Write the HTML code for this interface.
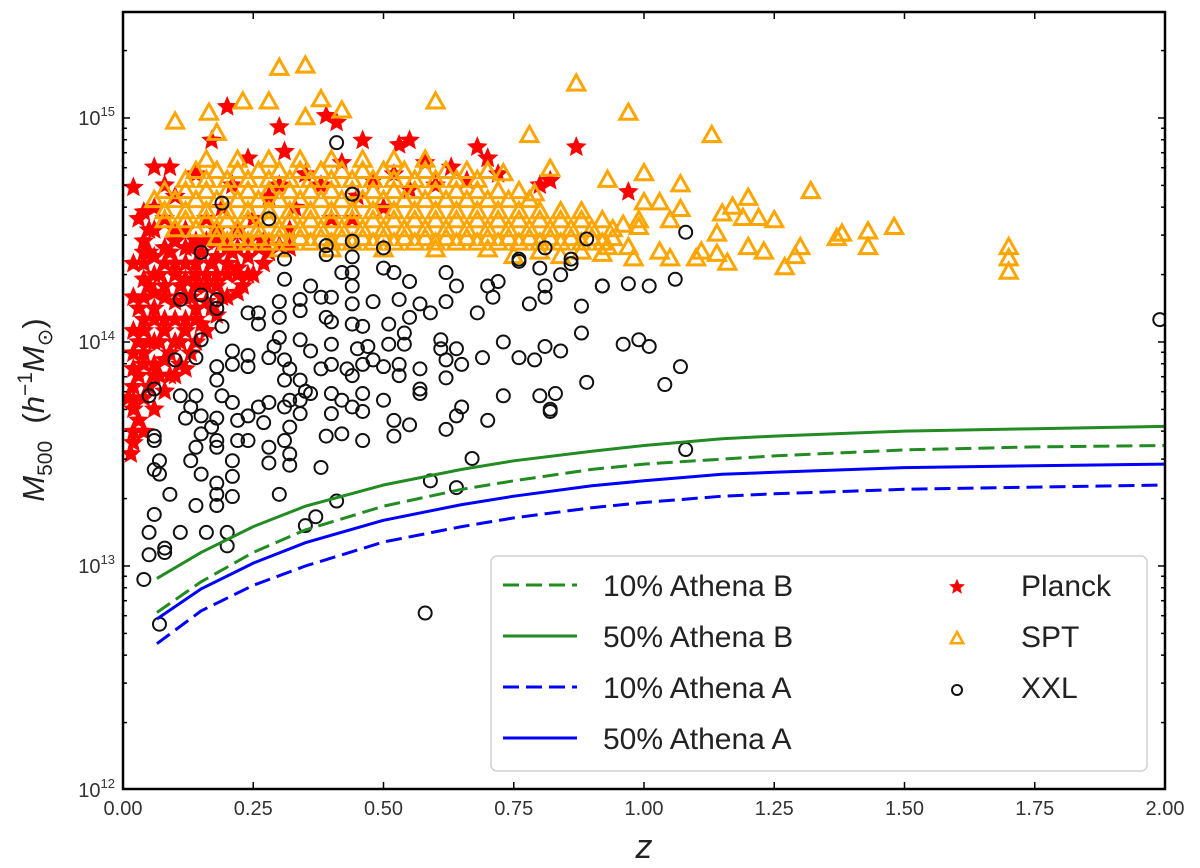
<!DOCTYPE html>
<html><head><meta charset="utf-8"><style>
html,body{margin:0;padding:0;background:#fff;}
svg{display:block;font-family:"Liberation Sans","DejaVu Sans",sans-serif;}
</style></head><body>
<svg id="chart" width="1200" height="868" viewBox="0 0 1200 868">
  <g id="marks"></g>
  <g id="axes"></g>
  <text x="644" y="858" text-anchor="middle" font-size="34" font-style="italic" fill="#222">z</text>
  <text transform="translate(44,410) rotate(-90)" text-anchor="middle" font-size="31" fill="#222"><tspan font-style="italic">M</tspan><tspan font-size="21" dy="8">500</tspan><tspan dy="-8" xml:space="preserve">  (</tspan><tspan font-style="italic">h</tspan><tspan font-size="21" dy="-12">−1</tspan><tspan dy="12" font-style="italic">M</tspan><tspan font-size="21" dy="8">⊙</tspan><tspan dy="-8">)</tspan></text>
  <g id="legend"></g>
</svg>
<script>
// ---- data ----
const xTicks = [0, 0.25, 0.5, 0.75, 1.0, 1.25, 1.5, 1.75, 2.0];
const xTickLabels = ["0.00","0.25","0.50","0.75","1.00","1.25","1.50","1.75","2.00"];
const yDecades = [12, 13, 14, 15];
const curveZ = [0.065, 0.15, 0.25, 0.35, 0.5, 0.65, 0.75, 0.9, 1.0, 1.15, 1.25, 1.5, 1.75, 2.0];
const athenaB50 = [8.8e12, 1.15e13, 1.5e13, 1.85e13, 2.3e13, 2.7e13, 2.95e13, 3.25e13, 3.45e13, 3.7e13, 3.8e13, 4.0e13, 4.1e13, 4.2e13];
const athenaB10 = [6.2e12, 8.5e12, 1.15e13, 1.45e13, 1.85e13, 2.2e13, 2.4e13, 2.7e13, 2.85e13, 3.0e13, 3.1e13, 3.3e13, 3.4e13, 3.45e13];
const athenaA50 = [5.8e12, 7.9e12, 1.03e13, 1.27e13, 1.6e13, 1.88e13, 2.05e13, 2.28e13, 2.4e13, 2.57e13, 2.62e13, 2.75e13, 2.8e13, 2.85e13];
const athenaA10 = [4.5e12, 6.3e12, 8.2e12, 1.0e13, 1.28e13, 1.5e13, 1.64e13, 1.82e13, 1.92e13, 2.05e13, 2.1e13, 2.2e13, 2.25e13, 2.3e13];
const planck = [[0.02,13.74],[0.03,13.85],[0.02,13.95],[0.04,14.05],[0.03,14.15],[0.05,14.25],[0.04,14.35],[0.06,13.9],[0.07,14.0],[0.06,14.1],[0.08,14.2],[0.07,14.3],[0.09,14.4],[0.05,13.8],[0.1,14.1],[0.11,14.25],[0.12,14.35],[0.1,14.45],[0.13,14.2],[0.14,14.3],[0.15,14.4],[0.16,14.25],[0.17,14.35],[0.18,14.45],[0.2,14.3],[0.21,14.4],[0.22,14.33],[0.24,14.38],[0.26,14.42],[0.28,14.4],[0.3,14.43],[0.08,14.05],[0.09,13.95],[0.11,14.0],[0.12,14.1],[0.14,14.15],[0.05,14.5],[0.03,14.55],[0.02,14.69],[0.06,14.6],[0.1,14.65],[0.04,14.45],[0.01,13.75],[0.02,13.6],[0.03,13.65],[0.015,13.5],[0.07,13.85],[0.12,14.5],[0.16,14.55],[0.19,14.6],[0.22,14.5],[0.25,14.55],[0.28,14.65],[0.3,14.7],[0.33,14.6],[0.35,14.75],[0.38,14.7],[0.4,14.55],[0.42,14.8],[0.45,14.65],[0.48,14.72],[0.5,14.6],[0.52,14.75],[0.55,14.68],[0.58,14.8],[0.6,14.7],[0.63,14.78],[0.66,14.72],[0.7,14.82],[0.72,14.75],[0.2,15.05],[0.17,14.9],[0.3,14.96],[0.31,14.85],[0.39,15.01],[0.55,14.9],[0.41,14.98],[0.46,14.9],[0.53,14.88],[0.68,14.87],[0.7,14.82],[0.87,14.87],[0.97,14.67],[0.06,14.78],[0.09,14.78],[0.8,14.7],[0.82,14.72],[0.21,14.7],[0.24,14.82],[0.14,14.75],[0.08,14.7],[0.44,14.55],[0.32,14.5],[0.19,14.2],[0.17,14.15],[0.13,13.95],[0.09,13.85],[0.04,13.9],[0.05,14.0],[0.06,14.3],[0.08,14.35],[0.1,14.3],[0.15,14.08],[0.2,14.45],[0.23,14.25],[0.11,13.9],[0.02,13.8],[0.03,14.0],[0.04,14.2],[0.05,14.4],[0.13,14.42],[0.18,14.3],[0.25,14.3],
[0.02,13.55],[0.02,13.7],[0.02,13.88],[0.02,14.05],[0.02,14.2],[0.02,14.35],
[0.04,13.6],[0.04,13.75],[0.04,13.95],[0.04,14.1],[0.04,14.28],[0.04,14.4],[0.04,14.58],
[0.06,13.7],[0.06,13.85],[0.06,14.0],[0.06,14.15],[0.06,14.22],[0.06,14.38],[0.06,14.5],
[0.08,13.78],[0.08,13.92],[0.08,14.1],[0.08,14.25],[0.08,14.42],[0.08,14.55],
[0.10,13.85],[0.10,14.0],[0.10,14.18],[0.10,14.35],[0.10,14.5],
[0.12,13.88],[0.12,14.05],[0.12,14.2],[0.12,14.28],[0.12,14.42],
[0.14,14.0],[0.14,14.1],[0.14,14.25],[0.14,14.35],[0.14,14.45],
[0.16,14.05],[0.16,14.18],[0.16,14.3],[0.16,14.45],
[0.18,14.12],[0.18,14.25],[0.18,14.38],[0.18,14.5],
[0.20,14.2],[0.20,14.35],[0.20,14.42],[0.22,14.22],[0.22,14.3],[0.22,14.42],
[0.24,14.3],[0.24,14.45],[0.27,14.35],[0.27,14.45],[0.32,14.42]];
const spt = [[0.30,15.22],[0.35,15.23],[0.10,14.98],[0.165,15.02],[0.23,15.07],[0.28,15.07],[0.38,15.08],[0.42,15.03],[0.35,15.0],[0.60,15.07],[0.87,15.15],[0.97,15.02],[0.78,14.92],[1.13,14.92],[0.18,14.93],[1.0,14.75],[0.93,14.72],[1.07,14.70],[1.32,14.67],[1.2,14.64],[1.0,14.62],[1.03,14.62],[1.07,14.59],[1.17,14.60],[1.15,14.57],[1.19,14.55],[1.22,14.55],[1.25,14.54],[1.48,14.51],[1.43,14.49],[1.38,14.48],[1.37,14.46],[1.43,14.42],[1.30,14.42],[1.29,14.38],[1.27,14.33],[1.23,14.40],[1.20,14.42],[1.16,14.35],[1.14,14.39],[1.10,14.37],[1.11,14.40],[1.14,14.48],[1.05,14.54],[1.05,14.37],[1.03,14.40],[0.98,14.37],[1.70,14.42],[1.70,14.37],[1.70,14.31],[0.99,14.51],[0.96,14.52],[0.93,14.42],[0.97,14.42],[0.99,14.54],[0.82,14.77],[0.73,14.75],[0.79,14.66],
[0.18,14.46],[0.22,14.46],[0.26,14.46],[0.30,14.46],[0.34,14.46],[0.38,14.46],[0.42,14.46],[0.46,14.46],[0.50,14.46],[0.54,14.46],[0.58,14.46],[0.62,14.46],[0.66,14.46],[0.70,14.46],[0.74,14.46],[0.78,14.46],[0.82,14.46],[0.86,14.46],[0.90,14.46],[0.94,14.46],
[0.08,14.54],[0.12,14.54],[0.16,14.54],[0.20,14.54],[0.24,14.54],[0.28,14.54],[0.32,14.54],[0.36,14.54],[0.40,14.54],[0.44,14.54],[0.48,14.54],[0.52,14.54],[0.56,14.54],[0.60,14.54],[0.64,14.54],[0.68,14.54],[0.72,14.54],[0.76,14.54],[0.80,14.54],[0.84,14.54],[0.88,14.54],[0.92,14.54],
[0.06,14.63],[0.10,14.63],[0.14,14.63],[0.18,14.63],[0.22,14.63],[0.26,14.63],[0.30,14.63],[0.34,14.63],[0.38,14.63],[0.42,14.63],[0.46,14.63],[0.50,14.63],[0.54,14.63],[0.58,14.63],[0.62,14.63],[0.66,14.63],[0.70,14.63],[0.74,14.63],[0.78,14.63],
[0.12,14.72],[0.16,14.72],[0.20,14.72],[0.24,14.72],[0.28,14.72],[0.32,14.72],[0.36,14.72],[0.40,14.72],[0.44,14.72],[0.48,14.72],[0.52,14.72],[0.56,14.72],[0.60,14.72],[0.64,14.72],[0.68,14.72],
[0.16,14.81],[0.22,14.81],[0.28,14.81],[0.34,14.81],[0.40,14.81],[0.46,14.81],[0.52,14.81],[0.58,14.81],
[0.30,14.41],[0.40,14.41],[0.50,14.41],[0.60,14.41],[0.70,14.41],[0.80,14.40],[0.88,14.40],[0.75,14.38],[0.84,14.38],[0.92,14.39],
[0.20,14.44],[0.24,14.44],[0.28,14.44],[0.32,14.44],[0.36,14.44],[0.40,14.44],[0.44,14.44],[0.48,14.44],[0.52,14.44],[0.56,14.44],[0.60,14.44],[0.64,14.44],[0.68,14.44],[0.72,14.44],[0.76,14.44],[0.80,14.44],[0.84,14.44],[0.88,14.44],[0.92,14.44],
[0.10,14.50],[0.14,14.50],[0.18,14.50],[0.22,14.50],[0.26,14.50],[0.30,14.50],[0.34,14.50],[0.38,14.50],[0.42,14.50],[0.46,14.50],[0.50,14.50],[0.54,14.50],[0.58,14.50],[0.62,14.50],[0.66,14.50],[0.70,14.50],[0.74,14.50],[0.78,14.50],[0.82,14.50],[0.86,14.50],[0.90,14.50],[0.94,14.50],
[0.08,14.58],[0.12,14.58],[0.16,14.58],[0.20,14.58],[0.24,14.58],[0.28,14.58],[0.32,14.58],[0.36,14.58],[0.40,14.58],[0.44,14.58],[0.48,14.58],[0.52,14.58],[0.56,14.58],[0.60,14.58],[0.64,14.58],[0.68,14.58],[0.72,14.58],[0.76,14.58],[0.80,14.58],[0.84,14.58],[0.88,14.58],
[0.08,14.67],[0.12,14.67],[0.16,14.67],[0.20,14.67],[0.24,14.67],[0.28,14.67],[0.32,14.67],[0.36,14.67],[0.40,14.67],[0.44,14.67],[0.48,14.67],[0.52,14.67],[0.56,14.67],[0.60,14.67],[0.64,14.67],[0.68,14.67],[0.72,14.67],[0.76,14.67],
[0.14,14.76],[0.18,14.76],[0.22,14.76],[0.26,14.76],[0.30,14.76],[0.34,14.76],[0.38,14.76],[0.42,14.76],[0.46,14.76],[0.50,14.76],[0.54,14.76],[0.58,14.76],[0.62,14.76],[0.66,14.76],[0.70,14.76]];
const xxl = [[0.11,14.19],[0.15,14.21],[0.18,14.19],[0.18,14.15],[0.19,14.07],[0.31,14.28],[0.42,14.31],[0.44,14.31],[0.44,14.25],[0.50,14.33],[0.52,14.31],[0.55,14.27],[0.62,14.31],[0.64,14.25],[0.70,14.25],[0.72,14.27],[0.71,14.20],[0.76,14.36],[0.80,14.33],[0.81,14.25],[0.81,14.20],[0.84,14.30],[0.86,14.35],[0.78,14.17],[0.88,14.16],[0.92,14.25],[0.97,14.26],[1.01,14.25],[1.06,14.28],[0.68,14.13],[0.59,14.13],[0.57,14.17],[0.62,14.18],[0.55,14.11],[0.53,14.19],[0.48,14.18],[0.44,14.17],[0.40,14.20],[0.38,14.20],[0.36,14.25],[0.34,14.19],[0.30,14.18],[0.26,14.13],[0.24,14.13],[0.26,14.08],[0.30,14.11],[0.34,14.14],[0.39,14.11],[0.40,14.09],[0.44,14.08],[0.46,14.07],[0.51,14.08],[0.54,14.04],[0.54,13.99],[0.51,13.99],[0.47,13.98],[0.45,13.97],[0.40,13.99],[0.36,13.96],[0.34,14.01],[0.30,14.02],[0.29,13.98],[0.24,13.94],[0.21,13.96],[0.15,14.01],[0.10,13.92],[0.14,13.93],[0.18,13.89],[0.18,13.83],[0.21,13.90],[0.24,13.89],[0.28,13.93],[0.31,13.92],[0.32,13.88],[0.31,13.83],[0.34,13.83],[0.35,13.78],[0.38,13.88],[0.40,13.90],[0.43,13.88],[0.44,13.85],[0.46,13.90],[0.48,13.92],[0.50,13.89],[0.53,13.90],[0.53,13.85],[0.57,13.79],[0.57,13.77],[0.57,13.88],[0.61,14.01],[0.61,13.97],[0.64,13.97],[0.62,13.92],[0.65,13.90],[0.62,13.84],[0.69,13.93],[0.73,14.00],[0.76,13.93],[0.79,13.92],[0.81,13.98],[0.84,13.96],[0.88,14.04],[0.96,13.99],[0.99,14.01],[1.01,13.98],[1.07,13.89],[1.04,13.81],[0.89,13.82],[0.73,13.76],[0.80,13.76],[0.83,13.77],[0.82,13.69],[0.82,13.70],[0.70,13.65],[0.65,13.71],[0.64,13.67],[0.62,13.61],[0.55,13.63],[0.52,13.65],[0.52,13.58],[0.46,13.56],[0.42,13.59],[0.39,13.58],[0.40,13.68],[0.44,13.71],[0.46,13.69],[0.50,13.74],[0.46,13.77],[0.42,13.74],[0.40,13.77],[0.36,13.77],[0.32,13.74],[0.34,13.68],[0.32,13.62],[0.31,13.56],[0.32,13.50],[0.28,13.53],[0.28,13.46],[0.32,13.45],[0.38,13.44],[0.30,13.32],[0.24,13.56],[0.22,13.56],[0.21,13.47],[0.21,13.40],[0.21,13.31],[0.18,13.37],[0.18,13.32],[0.18,13.27],[0.14,13.27],[0.15,13.41],[0.13,13.47],[0.14,13.53],[0.18,13.56],[0.17,13.62],[0.15,13.67],[0.12,13.66],[0.11,13.76],[0.14,13.76],[0.19,13.76],[0.21,13.73],[0.24,13.67],[0.28,13.73],[0.27,13.64],[0.06,13.79],[0.05,13.76],[0.06,13.58],[0.06,13.56],[0.07,13.47],[0.06,13.43],[0.07,13.41],[0.09,13.32],[0.06,13.23],[0.05,13.15],[0.05,13.05],[0.08,13.06],[0.08,13.08],[0.11,13.15],[0.16,13.15],[0.20,13.15],[0.20,13.09],[0.04,12.94],[0.07,12.74],[0.58,12.79],[0.35,13.18],[0.37,13.22],[0.41,13.29],[0.59,13.38],[0.64,13.35],[0.67,13.48],[1.08,13.52],[0.18,13.53],[0.15,13.59],[0.13,13.71],[0.18,13.66],[0.22,13.65],[0.26,13.71],[0.31,13.71],[0.34,13.74],
[0.41,14.89],[0.44,14.66],[0.28,14.55],[0.19,14.62],[0.15,14.40],[0.31,14.37],[0.39,14.43],[0.44,14.45],[0.50,14.42],[0.39,14.39],[0.44,14.38],[0.76,14.37],[0.81,14.42],[0.89,14.46],[1.08,14.49],[0.86,14.37],[0.92,14.25],[1.99,14.10]];

// ---- scales ----
const X0 = 123, X1 = 1165, YTOP = 12, YBOT = 789;
const DEC = 224, Y15 = 118;
function sx(z){ return X0 + (z/2.0)*(X1-X0); }
function sy(logm){ return Y15 + (15 - logm)*DEC; }
const NS = "http://www.w3.org/2000/svg";
function mk(tag, attrs, parent){ const e=document.createElementNS(NS,tag); for(const k in attrs) e.setAttribute(k,attrs[k]); parent.appendChild(e); return e; }

const svg = document.getElementById('chart');
const defs = mk('defs',{},svg);
const clip = mk('clipPath',{id:'plotclip'},defs);
mk('rect',{x:X0,y:YTOP,width:X1-X0,height:YBOT-YTOP},clip);
const marks = document.getElementById('marks');
marks.setAttribute('clip-path','url(#plotclip)');

function starPath(cx,cy,r){
  let d=''; for(let i=0;i<10;i++){ const a=-Math.PI/2+i*Math.PI/5; const rr=i%2?r*0.45:r; d+=(i?'L':'M')+(cx+rr*Math.cos(a)).toFixed(1)+','+(cy+rr*Math.sin(a)).toFixed(1);} return d+'Z';
}
function triPath(cx,cy,s){ return `M${cx},${cy-s}L${cx+s*0.9},${cy+s*0.6}L${cx-s*0.9},${cy+s*0.6}Z`; }

const gP = mk('g',{},marks);


planck.forEach(p=>{
  const el = mk('path',{d:starPath(sx(p[0]),sy(p[1]),9),fill:'#ff0000',stroke:'#ff0000','stroke-width':1.5},gP);
  
  
});
const gS = mk('g',{},marks);


spt.forEach(p=>{
  const el = mk('path',{d:triPath(sx(p[0]),sy(p[1]),9.5),fill:'none',stroke:'#ffa500','stroke-width':3},gS);
  
  
});
const gX = mk('g',{},marks);


xxl.forEach(p=>{
  const el = mk('circle',{cx:sx(p[0]),cy:sy(p[1]),r:6.5,fill:'none',stroke:'#111','stroke-width':2},gX);
  
  
});
function drawCurve(vals,color,dash,name){
  const d = vals.map((v,i)=>(i?'L':'M')+sx(curveZ[i]).toFixed(1)+','+sy(Math.log10(v)).toFixed(1)).join('');
  const el = mk('path',{d:d,fill:'none',stroke:color,'stroke-width':3,'stroke-dasharray':dash||'none'},marks);
  
  
}
drawCurve(athenaB10,'#228b22','16 7','athena-b-10-line');
drawCurve(athenaB50,'#228b22',null,'athena-b-50-line');
drawCurve(athenaA10,'#0000ff','16 7','athena-a-10-line');
drawCurve(athenaA50,'#0000ff',null,'athena-a-50-line');

// ---- axes ----
const axes = document.getElementById('axes');
const frame = mk('rect',{x:X0,y:YTOP,width:X1-X0,height:YBOT-YTOP,fill:'none',stroke:'#000','stroke-width':2.5},axes);


xTicks.forEach((t,i)=>{
  const x=sx(t);
  mk('line',{x1:x,x2:x,y1:YBOT,y2:YBOT-7,stroke:'#000','stroke-width':1.5},axes);
  mk('line',{x1:x,x2:x,y1:YTOP,y2:YTOP+7,stroke:'#000','stroke-width':1.5},axes);
  const lb = mk('text',{x:x,y:815,'text-anchor':'middle','font-size':20,fill:'#333'},axes);
  lb.textContent = xTickLabels[i];
  
  
});
yDecades.forEach(d=>{
  for(let m=1;m<10;m++){
    const lv = d+Math.log10(m); const y=sy(lv);
    if(y<YTOP||y>YBOT) continue;
    const len = m===1?7:4;
    mk('line',{x1:X0,x2:X0+len,y1:y,y2:y,stroke:'#000','stroke-width':1.5},axes);
    mk('line',{x1:X1,x2:X1-len,y1:y,y2:y,stroke:'#000','stroke-width':1.5},axes);
  }
  const y=sy(d);
  const lb = mk('text',{x:115,y:y+7,'text-anchor':'end','font-size':20,fill:'#333'},axes);
  
  
  const t1 = mk('tspan',{},lb); t1.textContent='10';
  const t2 = mk('tspan',{'font-size':13,dy:-9},lb); t2.textContent=String(d);
});

// ---- legend ----
const lg = document.getElementById('legend');
const lbox = mk('rect',{x:491,y:556,width:656,height:215,rx:6,fill:'#fff','fill-opacity':0.85,stroke:'#d0d0d0','stroke-width':1.5},lg);


const lineItems = [['10% Athena B','#228b22','16 7'],['50% Athena B','#228b22',null],['10% Athena A','#0000ff','16 7'],['50% Athena A','#0000ff',null]];
const rowsY = [585,636,687,738];
lineItems.forEach((it,i)=>{
  const g = mk('g',{},lg);
  
  
  mk('line',{x1:503,x2:577,y1:rowsY[i],y2:rowsY[i],stroke:it[1],'stroke-width':3,'stroke-dasharray':it[2]||'none'},g);
  const t = mk('text',{x:603,y:rowsY[i]+11,'font-size':30,fill:'#222'},g); t.textContent=it[0];
});
const mItems = ['Planck','SPT','XXL'];
mItems.forEach((n,i)=>{
  const g = mk('g',{},lg);
  
  
  const y=rowsY[i];
  if(i===0) mk('path',{d:starPath(957,y+2,7),fill:'#ff0000',stroke:'#ff0000'},g);
  if(i===1) mk('path',{d:triPath(957,y+3,7),fill:'none',stroke:'#ffa500','stroke-width':2.5},g);
  if(i===2) mk('circle',{cx:957,cy:y+3,r:5,fill:'none',stroke:'#111','stroke-width':2},g);
  const t = mk('text',{x:1021,y:y+11,'font-size':30,fill:'#222'},g); t.textContent=n;
});
</script>
</body></html>
